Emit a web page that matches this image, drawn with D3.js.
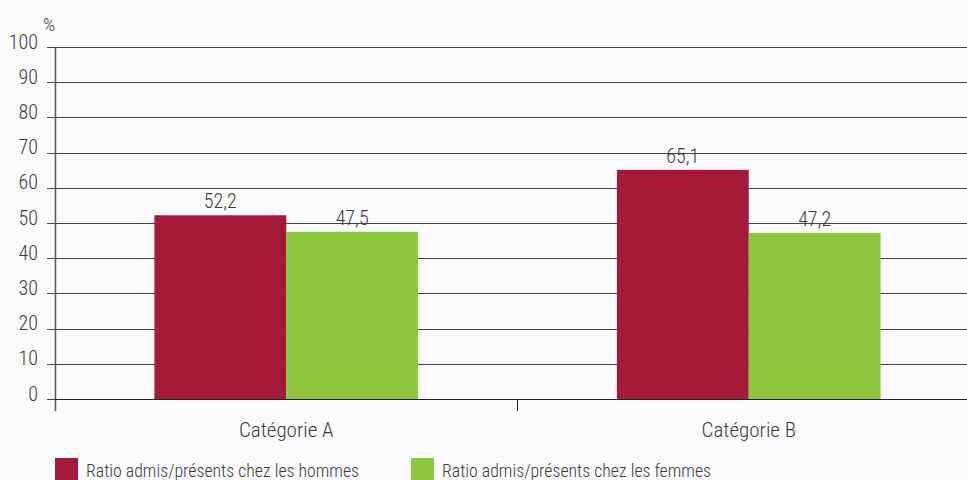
<!DOCTYPE html>
<html><head><meta charset="utf-8">
<script src="https://cdn.jsdelivr.net/npm/d3@7"></script>
<style>
body{margin:0;background:#fbfbfd;}
text{font-family:"Roboto Condensed","Liberation Sans Narrow","DejaVu Sans Condensed",sans-serif;fill:#3a3a3a;font-weight:300;}
</style></head><body>
<svg id="c" width="967" height="480"></svg>
<script>
const categories = ["Catégorie A", "Catégorie B"];
const seriesNames = ["Ratio admis/présents chez les hommes", "Ratio admis/présents chez les femmes"];
const hommes = [52.2, 65.1];
const femmes = [47.5, 47.2];
const yTicks = [0,10,20,30,40,50,60,70,80,90,100];
const colors = ["#a51a3b", "#8dc63f"];

const svg = d3.select("#c");
const mLeft = 55, mRight = 980, mTop = 47, mBottom = 399;
const x = d3.scaleBand().domain(categories).range([mLeft, mRight]).paddingInner(0).paddingOuter(0);
const inner = d3.scaleBand().domain([0,1]).range([0, x.bandwidth()]).paddingInner(0).paddingOuter(0.754);
const y = d3.scaleLinear().domain([0,100]).range([mBottom, mTop]);
const fmt = v => v.toFixed(1).replace(".", ",");

// gridlines
svg.append("g").selectAll("line").data(yTicks).join("line")
  .attr("x1", mLeft-8).attr("x2", 967)
  .attr("y1", d => Math.round(y(d))+0.5).attr("y2", d => Math.round(y(d))+0.5)
  .attr("stroke", "#444").attr("stroke-width", 1);

// y labels
svg.append("g").selectAll("text").data(yTicks).join("text")
  .attr("x", 38).attr("y", d => y(d)+1.5).attr("text-anchor","end")
  .attr("font-size", 20).text(d => d);
svg.append("text").attr("x", 43).attr("y", 31).attr("font-size", 19).text("%");

// bars
const data = [];
categories.forEach((c,i) => { data.push({c, s:0, v:hommes[i]}); data.push({c, s:1, v:femmes[i]}); });
svg.append("g").selectAll("rect").data(data).join("rect")
  .attr("x", d => x(d.c)+inner(d.s)).attr("width", inner.bandwidth())
  .attr("y", d => y(d.v)).attr("height", d => y(0)-y(d.v))
  .attr("fill", d => colors[d.s]);
svg.append("g").selectAll("text").data(data).join("text")
  .attr("x", d => x(d.c)+inner(d.s)+inner.bandwidth()/2).attr("y", d => y(d.v)-7)
  .attr("text-anchor","middle").attr("font-size", 20).text(d => fmt(d.v));

// axes lines
svg.append("line").attr("x1", mLeft+0.5).attr("x2", mLeft+0.5).attr("y1", mTop).attr("y2", 411)
  .attr("stroke","#555").attr("stroke-width",1.5);
svg.append("line").attr("x1", mLeft).attr("x2", 967).attr("y1", mBottom+0.5).attr("y2", mBottom+0.5)
  .attr("stroke","#222").attr("stroke-width",1.2);
svg.append("g").selectAll("line").data(categories.slice(1)).join("line")
  .attr("x1", d => x(d)).attr("x2", d => x(d)).attr("y1", mBottom).attr("y2", 411)
  .attr("stroke","#222").attr("stroke-width",1);

// category labels
svg.append("g").selectAll("text").data(categories).join("text")
  .attr("x", d => x(d)+x.bandwidth()/2).attr("y", 437).attr("text-anchor","middle")
  .attr("font-size", 21).text(d => d);

// legend
const lg = svg.append("g").selectAll("g").data(seriesNames).join("g")
  .attr("transform", (d,i) => `translate(${[55,411][i]},458)`);
lg.append("rect").attr("width", 23).attr("height", 22).attr("fill", (d,i) => colors[i]);
lg.append("text").attr("x", 31).attr("y", 19).attr("font-size", 17.8).text(d => d);
</script></body></html>
